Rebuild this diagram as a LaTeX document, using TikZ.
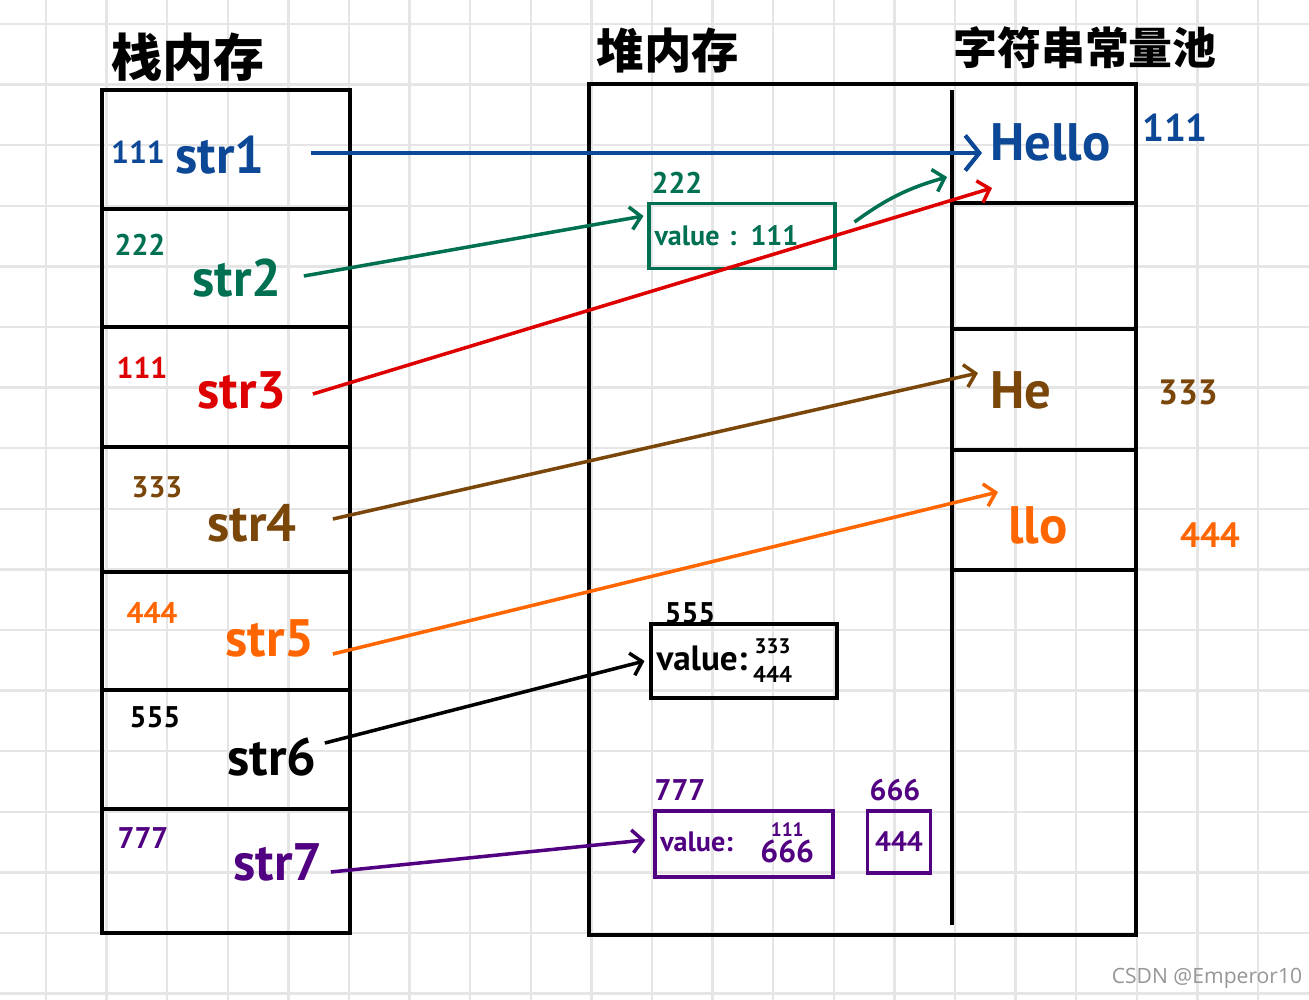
\documentclass[tikz,border=0pt]{standalone}
\usepackage{fontspec}
\usepackage{xcolor}
\setmainfont{PT Sans}
\newfontfamily\cjk{Noto Sans CJK SC}
\newfontfamily\wmfont{Open Sans}
\usetikzlibrary{arrows.meta,calc}
\definecolor{grid_line}{RGB}{229,229,229}
\definecolor{hello_ref}{RGB}{12,72,150}
\definecolor{obj_ref}{RGB}{0,112,82}
\definecolor{plus_ref}{RGB}{222,0,0}
\definecolor{he_ref}{RGB}{122,70,10}
\definecolor{llo_ref}{RGB}{255,102,0}
\definecolor{arr_ref}{RGB}{80,0,128}
\definecolor{wm_grey}{RGB}{150,150,150}

\tikzset{
  varname/.style={font=\bfseries\fontsize{30}{30}\selectfont, inner sep=0pt},
  addr/.style={font=\bfseries\fontsize{17}{17}\selectfont, inner sep=0pt},
  title/.style={inner sep=0pt},
  frame/.style={draw, line width=2.3pt},
  objbox/.style={draw, line width=2pt, align=left, inner sep=3pt,
    font=\bfseries\fontsize{16}{16}\selectfont},
  ptr/.style={line width=2pt,
    -{Straight Barb[length=6pt,width=13pt,line width=2pt]}},
}

\begin{document}
\begin{tikzpicture}[x=0.02cm, y=-0.02cm]
  \useasboundingbox[fill=white] (0,0) rectangle (1309,1000);
  % grid paper
  \foreach \gx in {0,...,20}
    \draw[grid_line, line width=1.3pt] ({46+60.6*\gx},0) -- ++(0,1000);
  \foreach \gy in {0,...,16}
    \draw[grid_line, line width=1.3pt] (0,{24+60.6*\gy}) -- ++(1309,0);

  % titles
  \node[title, font=\cjk\bfseries\fontsize{29}{29}\selectfont] (stacktitle) at (188,57) {栈内存};
  \node[title, font=\cjk\bfseries\fontsize{27}{27}\selectfont] (heaptitle) at (668,50) {堆内存};
  \node[title, font=\cjk\bfseries\fontsize{25}{25}\selectfont] (pooltitle) at (1085,48) {字符串常量池};

  % stack
  \draw[frame] (102,90) rectangle (350,933);
  \foreach \dy in {209,327,447,572,690,809}
    \draw[line width=2.3pt] (102,\dy) -- (350,\dy);

  % heap and string pool
  \draw[frame] (589,84) rectangle (1136,935);
  \draw[line width=2.3pt] (952,90) -- (952,925);
  \foreach \dy in {203,329,450,570}
    \draw[line width=2.3pt] (952,\dy) -- (1136,\dy);

  % stack variables
  \node[addr, color=hello_ref, font=\bfseries\fontsize{18}{18}\selectfont] (a1) at (138,152) {111};
  \node[varname, color=hello_ref] (s1) at (220,155) {str1};
  \node[addr, color=obj_ref] (a2) at (140,245) {222};
  \node[varname, color=obj_ref] (s2) at (237,278) {str2};
  \node[addr, color=plus_ref] (a3) at (142,368) {111};
  \node[varname, color=plus_ref] (s3) at (242,390) {str3};
  \node[addr, color=he_ref] (a4) at (157,487) {333};
  \node[varname, color=he_ref] (s4) at (252,523) {str4};
  \node[addr, color=llo_ref] (a5) at (152,613) {444};
  \node[varname, color=llo_ref] (s5) at (270,638) {str5};
  \node[addr] (a6) at (155,717) {555};
  \node[varname] (s6) at (272,757) {str6};
  \node[addr, color=arr_ref] (a7) at (143,838) {777};
  \node[varname, color=arr_ref] (s7) at (278,862) {str7};

  % heap objects
  \node[addr, color=obj_ref] (h2) at (677,183) {222};
  \node[objbox, color=obj_ref, text width=3.5cm, minimum height=1.3cm]
    (obj2) at (742,236) {value : 111};
  \node[addr] (h6) at (690,613) {555};
  \node[objbox, text width=3.5cm, minimum height=1.16cm,
    font=\bfseries\fontsize{20}{20}\selectfont] (obj6) at (744,661)
    {value:\,\begin{tabular}{@{}c@{}}{\fontsize{12}{12}\selectfont 333}\\[-4pt]
     {\fontsize{13}{13}\selectfont 444}\end{tabular}};
  \node[addr, color=arr_ref] (h7) at (680,790) {777};
  \node[objbox, color=arr_ref, text width=3.35cm, minimum height=1.32cm]
    (obj7) at (744,844)
    {value:\hspace{0.55cm}\begin{tabular}{@{}c@{}}{\fontsize{11}{11}\selectfont 111}\\[-3pt]
     {\fontsize{18}{18}\selectfont 666}\end{tabular}};
  \node[addr, color=arr_ref] (h66) at (895,790) {666};
  \node[objbox, color=arr_ref, align=center, minimum width=1.26cm,
    minimum height=1.24cm, inner sep=0pt] (arr) at (899,842) {444};

  % string pool
  \node[varname, color=hello_ref, anchor=west] (hello) at (990,142) {Hello};
  \node[addr, color=hello_ref, font=\bfseries\fontsize{22}{22}\selectfont] (p1) at (1175,128) {111};
  \node[varname, color=he_ref, anchor=west] (he) at (990,390) {He};
  \node[addr, color=he_ref, font=\bfseries\fontsize{20}{20}\selectfont] (p3) at (1188,392) {333};
  \node[varname, color=llo_ref, anchor=west] (llo) at (1008,525) {llo};
  \node[addr, color=llo_ref, font=\bfseries\fontsize{20}{20}\selectfont] (p4) at (1210,535) {444};

  % references
  \draw[ptr, color=hello_ref, line width=2.4pt,
    -{Straight Barb[length=8pt,width=20pt,line width=2.4pt]}]
    ($(s1.east)+(46,-2)$) -- ($(s1.east -| hello.west)+(-8,-2)$);
  \draw[ptr, color=obj_ref] ($(s2.east)+(22,-2)$) -- ($(obj2.west)+(-4,-20)$);
  \draw[ptr, color=obj_ref] ($(obj2.east)+(18,-14)$) to[bend left=10] ($(hello.west)+(-43,35)$);
  \draw[ptr, color=plus_ref] ($(s3.east)+(26,4)$) -- ($(hello.west)+(2,46)$);
  \draw[ptr, color=he_ref] ($(s4.east)+(36,-4)$) -- ($(he.west)+(-12,-17)$);
  \draw[ptr, color=llo_ref] ($(s5.east)+(18,16)$) -- ($(llo.west)+(-10,-33)$);
  \draw[ptr] ($(s6.east)+(8,-14)$) -- ($(obj6.west)+(-5,0)$);
  \draw[ptr, color=arr_ref] ($(s7.east)+(8,10)$) -- ($(obj7.west)+(-8,-4)$);

  % watermark
  \node[font=\wmfont\fontsize{12}{12}\selectfont, color=wm_grey, inner sep=0pt]
    (wm) at (1207,978) {CSDN @Emperor10};
\end{tikzpicture}
\end{document}
